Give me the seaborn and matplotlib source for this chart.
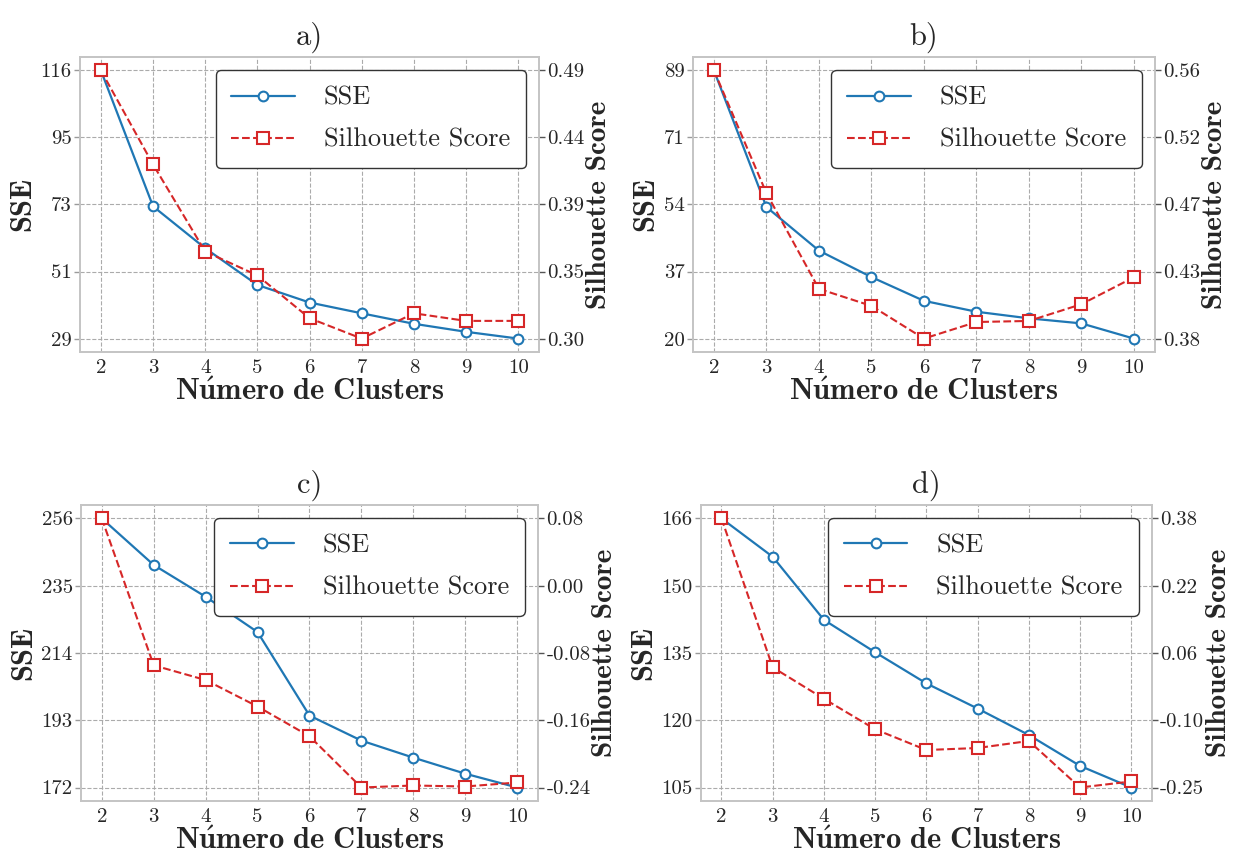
import numpy as np
import pandas as pd
import matplotlib
matplotlib.use("Agg")
import matplotlib.pyplot as plt
import seaborn as sns

# Number of clusters evaluated
clusters = [2, 3, 4, 5, 6, 7, 8, 9, 10]

# Panel a
sse_a = [116.4, 72.3, 58.7, 46.8, 41.1, 37.6, 34.2, 31.6, 29.4]
sil_a = [0.489, 0.422, 0.360, 0.343, 0.3125, 0.298, 0.316, 0.3106, 0.3106]

# Panel b
sse_b = [88.7, 53.6, 42.4, 35.6, 29.5, 26.7, 25.0, 23.7, 19.8]
sil_b = [0.561, 0.4795, 0.416, 0.4047, 0.383, 0.394, 0.3947, 0.4058, 0.4237]

# Panel c
sse_c = [256.0, 241.5, 231.6, 220.6, 194.6, 186.8, 181.5, 176.5, 172.2]
sil_c = [0.081, -0.0948, -0.1124, -0.1441, -0.1797, -0.241, -0.2386, -0.2398, -0.235]

# Panel d
sse_d = [165.6, 156.9, 142.6, 135.25, 128.2, 122.5, 116.5, 109.5, 104.6]
sil_d = [0.3755, 0.0279, -0.0455, -0.1166, -0.165, -0.1603, -0.1439, -0.2525, -0.2384]

panel_titles = ["a)", "b)", "c)", "d)"]
# bold Computer Modern with an acute accent on the u ("Número de Clusters")
xlabel_text = r"$\mathbf{N\acute{u}mero\ de\ Clusters}$"
sse_label = "SSE"
sil_label = "Silhouette Score"

sns.set_theme(style="whitegrid")
plt.rcParams.update({
    "font.family": ["cmr10", "DejaVu Serif"],
    "mathtext.fontset": "cm",
    "axes.unicode_minus": False,
    "grid.linestyle": "--",
    "grid.color": "#ababab",
    "grid.linewidth": 0.8,
    "axes.edgecolor": "#c4c4c4",
    "axes.linewidth": 1.2,
})

REG = ["cmr10", "DejaVu Serif"]
BOLD = ["cmb10", "DejaVu Serif"]
BLUE = "#1f77b4"
RED = "#d62728"

fig = plt.figure(figsize=(12.35, 8.56), dpi=100)
positions = [
    [0.0648, 0.5888, 0.3717, 0.3446],
    [0.5611, 0.5888, 0.3740, 0.3446],
    [0.0656, 0.0643, 0.3700, 0.3458],
    [0.5676, 0.0643, 0.3650, 0.3458],
]
panels = [(sse_a, sil_a), (sse_b, sil_b), (sse_c, sil_c), (sse_d, sil_d)]

for pos, title, (sse, sil) in zip(positions, panel_titles, panels):
    ax = fig.add_axes(pos)
    df = pd.DataFrame({"k": clusters, "sse": sse, "sil": sil})
    sns.lineplot(data=df, x="k", y="sse", ax=ax, color=BLUE, marker="o",
                 markersize=7, markerfacecolor="white", markeredgecolor=BLUE,
                 markeredgewidth=1.5, linewidth=1.6, label=sse_label)
    ax2 = ax.twinx()
    sns.lineplot(data=df, x="k", y="sil", ax=ax2, color=RED, marker="s",
                 markersize=8, markerfacecolor="white", markeredgecolor=RED,
                 markeredgewidth=1.5, linewidth=1.5, linestyle="--",
                 label=sil_label)

    # five evenly spaced ticks between the extremes of each series
    t1 = np.linspace(min(sse), max(sse), 5)
    t2 = np.linspace(min(sil), max(sil), 5)
    ax.set_yticks(t1)
    ax.set_yticklabels(["%.0f" % v for v in t1], fontfamily=REG, fontsize=15)
    ax2.set_yticks(t2)
    ax2.set_yticklabels(["%.2f" % v for v in t2], fontfamily=REG, fontsize=15)
    ax.set_xticks(clusters)
    ax.set_xticklabels([str(c) for c in clusters], fontfamily=REG, fontsize=15)
    ax2.grid(False)

    ax.tick_params(axis="y", length=4, width=1, color="#9a9a9a", pad=2)
    ax.tick_params(axis="x", length=0, pad=5)
    ax2.tick_params(axis="y", length=4, width=1, color="#555555", pad=2)
    for s in ax2.spines.values():
        s.set_color("#c4c4c4")

    ax.set_xlabel(xlabel_text, fontsize=22, labelpad=1)
    ax.set_ylabel(sse_label, fontfamily=BOLD, fontsize=22, labelpad=3)
    ax2.set_ylabel(sil_label, fontfamily=BOLD, fontsize=21, labelpad=1)
    ax.set_title(title, fontfamily=REG, fontsize=22, pad=9)

    h1, l1 = ax.get_legend_handles_labels()
    h2, l2 = ax2.get_legend_handles_labels()
    if ax.get_legend() is not None:
        ax.get_legend().remove()
    leg = ax2.legend(h1 + h2, l1 + l2, loc="upper right",
                     prop={"family": REG, "size": 19}, handlelength=2.4,
                     frameon=True, fancybox=True, framealpha=1.0,
                     borderpad=0.6, labelspacing=0.7, handletextpad=1.1)
    leg.get_frame().set_edgecolor("#333333")
    leg.get_frame().set_linewidth(1.0)

fig.savefig("out.png", dpi=100)
